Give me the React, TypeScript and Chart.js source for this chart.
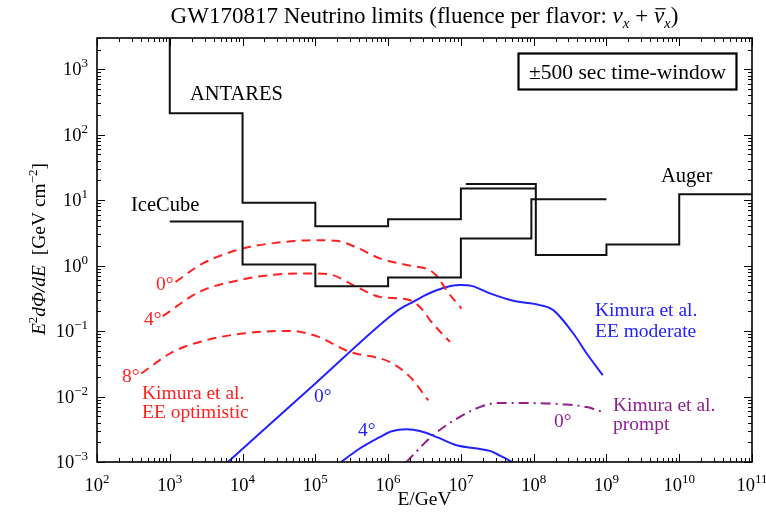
import React, { useEffect, useRef } from 'react';
import { Chart, registerables } from 'chart.js';

Chart.register(...registerables);

const SERIF = '"Liberation Serif", "Times New Roman", serif';
const RED = '#ff2020';
const BLUE = '#2222ff';
const PURPLE = '#8e1f8e';

// ---- Step limits: bin edges (GeV) and E^2 dPhi/dE values (GeV cm^-2)
const antaresEdges = [1e3, 1e4, 1e5, 1e6, 1e7, 1.07e8];
const antaresValues = [213, 9.1, 4.0, 5.1, 15.1];
const antaresOffScale = 1e4;
const icecubeEdges = [1e3, 1e4, 1e5, 1e6, 1e7, 9.3e7, 1e9];
const icecubeValues = [4.74, 1.04, 0.486, 0.66, 2.6, 10.3];
const augerEdges = [1.17e7, 1.07e8, 1e9, 1e10, 1e11];
const augerValues = [17.6, 1.45, 2.1, 12.3];

// ---- Kimura et al. EE optimistic (red dashed)
const opt0E = [1.2e3, 2.85e3, 1.01e4, 2.92e4, 1.04e5, 1.95e5, 3.67e5, 7.69e5, 2.0e6, 3.75e6, 4.8e6, 6.35e6, 1.02e7];
const opt0F = [0.565, 1.08, 1.83, 2.23, 2.45, 2.39, 1.9, 1.29, 1.0, 0.85, 0.67, 0.42, 0.22];
const opt4E = [8.0e2, 2.57e3, 1.01e4, 2.92e4, 8.4e4, 1.58e5, 3.67e5, 7.69e5, 2.0e6, 3.0e6, 3.75e6, 7.06e6];
const opt4F = [0.169, 0.398, 0.615, 0.733, 0.76, 0.733, 0.474, 0.333, 0.296, 0.209, 0.147, 0.0684];
const opt8E = [4.06e2, 1.1e3, 3.18e3, 1.01e4, 4.45e4, 1.04e5, 2.97e5, 1.05e6, 2.0e6, 3.55e6];
const opt8F = [0.0225, 0.0481, 0.0726, 0.0918, 0.1007, 0.0836, 0.0481, 0.0338, 0.02, 0.00877];

// ---- Kimura et al. EE moderate (blue solid)
const mod0E = [6.3e3, 1e5, 1e6, 1.5e6, 2.21e6, 3.2e6, 4.63e6, 7e6, 1.0e7, 1.4e7, 2.51e7, 5.25e7, 1.22e8, 1.86e8, 3.51e8, 5.36e8, 8.9e8];
const mod0F = [1e-3, 0.0158, 0.158, 0.222, 0.28, 0.35, 0.42, 0.485, 0.505, 0.49, 0.376, 0.29, 0.249, 0.209, 0.0918, 0.0454, 0.0212];
const mod4E = [2.26e5, 3.98e5, 7.69e5, 1.12e6, 1.78e6, 2.82e6, 4.68e6, 8.7e6, 1.58e7, 2.5e7, 3.55e7, 5.1e7];
const mod4F = [1e-3, 1.58e-3, 2.4e-3, 2.95e-3, 3.16e-3, 2.95e-3, 2.4e-3, 1.8e-3, 1.62e-3, 1.48e-3, 1.23e-3, 1e-3];

// ---- Kimura et al. prompt (purple dash-dot)
const promptE = [1.78e6, 4.16e6, 9.68e6, 1.82e7, 3.09e7, 8.9e7, 2.55e8, 5.36e8, 8.9e8];
const promptF = [1e-3, 2.57e-3, 4.9e-3, 6.9e-3, 7.94e-3, 7.94e-3, 7.59e-3, 6.9e-3, 5.8e-3];

// ---- Axes
const xMin = 1e2;
const xMax = 1e11;
const yMin = 1e-3;
const yMax = 3e3;
const xTickExps = [2, 3, 4, 5, 6, 7, 8, 9, 10, 11];
const yTickExps = [-3, -2, -1, 0, 1, 2, 3];

type Seg = { t: string; size: number; italic?: boolean; dy?: number; over?: boolean };

function segFont(s: Seg) {
  return `${s.italic ? 'italic ' : ''}${s.size}px ${SERIF}`;
}
function richWidth(ctx: CanvasRenderingContext2D, segs: Seg[]) {
  let w = 0;
  for (const s of segs) {
    ctx.font = segFont(s);
    w += ctx.measureText(s.t).width;
  }
  return w;
}
function drawRich(
  ctx: CanvasRenderingContext2D,
  segs: Seg[],
  x: number,
  y: number,
  align: 'left' | 'center' | 'right',
  color: string
) {
  const w = richWidth(ctx, segs);
  let cx = align === 'left' ? x : align === 'center' ? x - w / 2 : x - w;
  ctx.textAlign = 'left';
  ctx.textBaseline = 'alphabetic';
  ctx.fillStyle = color;
  ctx.strokeStyle = color;
  for (const s of segs) {
    ctx.font = segFont(s);
    const sw = ctx.measureText(s.t).width;
    ctx.fillText(s.t, cx, y + (s.dy || 0));
    if (s.over) {
      ctx.lineWidth = 1.2;
      ctx.beginPath();
      ctx.moveTo(cx + 1.5, y - s.size * 0.62);
      ctx.lineTo(cx + sw + 1.5, y - s.size * 0.62);
      ctx.stroke();
    }
    cx += sw;
  }
}

const pow10Segs = (e: number): Seg[] => [
  { t: '10', size: 18.5 },
  { t: e < 0 ? '\u2212' + Math.abs(e) : String(e), size: 13, dy: -8 },
];

const LBL = 19.5;
const BIG = 20.5;

function stepPoints(edges: number[], values: number[], start?: number) {
  const pts: { x: number; y: number }[] = [];
  if (start !== undefined) pts.push({ x: edges[0], y: start });
  values.forEach((v, i) => {
    pts.push({ x: edges[i], y: v });
    pts.push({ x: edges[i + 1], y: v });
  });
  return pts;
}
const curve = (xs: number[], ys: number[]) => xs.map((x, i) => ({ x, y: ys[i] }));

const framePlugin = {
  id: 'frameAndText',
  afterDatasetsDraw(chart: any) {
    const ctx: CanvasRenderingContext2D = chart.ctx;
    const { left, right, top, bottom } = chart.chartArea;
    const xs = chart.scales.x;
    const ys = chart.scales.y;
    ctx.save();
    // minor/major ticks, inward, on all four sides
    ctx.strokeStyle = '#000';
    ctx.lineWidth = 1;
    ctx.beginPath();
    for (let d = 2; d <= 11; d++) {
      for (let m = 1; m <= 9; m++) {
        const v = m * Math.pow(10, d);
        if (v > xMax * 1.0001) break;
        const px = Math.round(xs.getPixelForValue(v)) + 0.5;
        const len = m === 1 ? 8 : 4;
        ctx.moveTo(px, bottom);
        ctx.lineTo(px, bottom - len);
        ctx.moveTo(px, top);
        ctx.lineTo(px, top + len);
      }
    }
    for (let d = -3; d <= 3; d++) {
      for (let m = 1; m <= 9; m++) {
        const v = m * Math.pow(10, d);
        if (v > yMax * 1.0001) break;
        const py = Math.round(ys.getPixelForValue(v)) + 0.5;
        const len = m === 1 ? 8 : 4;
        ctx.moveTo(left, py);
        ctx.lineTo(left + len, py);
        ctx.moveTo(right, py);
        ctx.lineTo(right - len, py);
      }
    }
    ctx.stroke();
    ctx.lineWidth = 1.6;
    ctx.strokeRect(left, top, right - left, bottom - top);

    // tick labels
    for (const e of xTickExps) {
      const px = xs.getPixelForValue(Math.pow(10, e));
      drawRich(ctx, pow10Segs(e), px, bottom + 29, 'center', '#000');
    }
    for (const e of yTickExps) {
      const py = ys.getPixelForValue(Math.pow(10, e));
      drawRich(ctx, pow10Segs(e), left - 9, py + 6, 'right', '#000');
    }

    // title
    drawRich(
      ctx,
      [
        { t: 'GW170817 Neutrino limits (fluence per flavor: ', size: 23 },
        { t: '\u03bd', size: 23, italic: true },
        { t: 'x', size: 15, italic: true, dy: 5 },
        { t: ' + ', size: 23 },
        { t: '\u03bd', size: 23, italic: true, over: true },
        { t: 'x', size: 15, italic: true, dy: 5 },
        { t: ')', size: 23 },
      ],
      (left + right) / 2,
      23,
      'center',
      '#000'
    );

    // axis titles
    drawRich(ctx, [{ t: 'E/GeV', size: LBL }], (left + right) / 2, 505, 'center', '#000');
    ctx.save();
    ctx.translate(45, 249);
    ctx.rotate(-Math.PI / 2);
    drawRich(
      ctx,
      [
        { t: 'E', size: LBL, italic: true },
        { t: '2', size: 13, dy: -8 },
        { t: 'd\u03a6/dE', size: LBL, italic: true },
        { t: '  [GeV cm', size: LBL },
        { t: '\u22122', size: 13, dy: -8 },
        { t: ']', size: LBL },
      ],
      0,
      0,
      'center',
      '#000'
    );
    ctx.restore();

    // time-window box
    ctx.lineWidth = 2.2;
    ctx.strokeStyle = '#000';
    ctx.strokeRect(518.5, 53.5, 218, 36);
    drawRich(ctx, [{ t: '\u00b1500 sec time-window', size: 21.5 }], 627.5, 79, 'center', '#000');

    // annotations
    drawRich(ctx, [{ t: 'ANTARES', size: BIG }], 190, 100, 'left', '#000');
    drawRich(ctx, [{ t: 'IceCube', size: BIG }], 131, 211, 'left', '#000');
    drawRich(ctx, [{ t: 'Auger', size: BIG }], 661, 182, 'left', '#000');

    drawRich(ctx, [{ t: '0\u00b0', size: LBL }], 156, 290, 'left', RED);
    drawRich(ctx, [{ t: '4\u00b0', size: LBL }], 144, 325, 'left', RED);
    drawRich(ctx, [{ t: '8\u00b0', size: LBL }], 122, 382, 'left', RED);
    drawRich(ctx, [{ t: 'Kimura et al.', size: LBL }], 142, 399, 'left', RED);
    drawRich(ctx, [{ t: 'EE optimistic', size: LBL }], 142, 418, 'left', RED);

    drawRich(ctx, [{ t: '0\u00b0', size: LBL }], 314, 402, 'left', BLUE);
    drawRich(ctx, [{ t: '4\u00b0', size: LBL }], 358, 436, 'left', BLUE);
    drawRich(ctx, [{ t: 'Kimura et al.', size: LBL }], 595, 316, 'left', BLUE);
    drawRich(ctx, [{ t: 'EE moderate', size: LBL }], 595, 337, 'left', BLUE);

    drawRich(ctx, [{ t: '0\u00b0', size: LBL }], 554, 427, 'left', PURPLE);
    drawRich(ctx, [{ t: 'Kimura et al.', size: LBL }], 613, 411, 'left', PURPLE);
    drawRich(ctx, [{ t: 'prompt', size: LBL }], 613, 430, 'left', PURPLE);

    ctx.restore();
  },
};

export default function App() {
  const ref = useRef<HTMLCanvasElement | null>(null);
  useEffect(() => {
    if (!ref.current) return;
    const common = { pointRadius: 0, pointHoverRadius: 0, fill: false, borderWidth: 2 };
    const chart = new Chart(ref.current, {
      type: 'line',
      data: {
        datasets: [
          { ...common, label: 'ANTARES', data: stepPoints(antaresEdges, antaresValues, antaresOffScale), borderColor: '#111', tension: 0 },
          { ...common, label: 'IceCube', data: stepPoints(icecubeEdges, icecubeValues), borderColor: '#111', tension: 0 },
          { ...common, label: 'Auger', data: stepPoints(augerEdges, augerValues), borderColor: '#111', tension: 0 },
          { ...common, label: 'opt 0', data: curve(opt0E, opt0F), borderColor: RED, borderDash: [9, 6], cubicInterpolationMode: 'monotone' },
          { ...common, label: 'opt 4', data: curve(opt4E, opt4F), borderColor: RED, borderDash: [9, 6], cubicInterpolationMode: 'monotone' },
          { ...common, label: 'opt 8', data: curve(opt8E, opt8F), borderColor: RED, borderDash: [9, 6], cubicInterpolationMode: 'monotone' },
          { ...common, label: 'mod 0', data: curve(mod0E, mod0F), borderColor: BLUE, cubicInterpolationMode: 'monotone' },
          { ...common, label: 'mod 4', data: curve(mod4E, mod4F), borderColor: BLUE, cubicInterpolationMode: 'monotone' },
          { ...common, label: 'prompt', data: curve(promptE, promptF), borderColor: PURPLE, borderDash: [10, 5, 2, 5], cubicInterpolationMode: 'monotone' },
        ] as any,
      },
      options: {
        responsive: false,
        animation: false,
        events: [],
        layout: { padding: { left: 97, right: 14, top: 38, bottom: 51 } },
        plugins: { legend: { display: false }, tooltip: { enabled: false }, title: { display: false } },
        scales: {
          x: { type: 'logarithmic', min: xMin, max: xMax, display: false },
          y: { type: 'logarithmic', min: yMin, max: yMax, display: false },
        },
      },
      plugins: [framePlugin],
    });
    return () => chart.destroy();
  }, []);
  return (
    <div style={{ position: 'fixed', left: 0, top: 0, width: 766, height: 513, background: '#fff' }}>
      <canvas ref={ref} width={766} height={513} style={{ display: 'block', width: 766, height: 513 }} />
    </div>
  );
}
